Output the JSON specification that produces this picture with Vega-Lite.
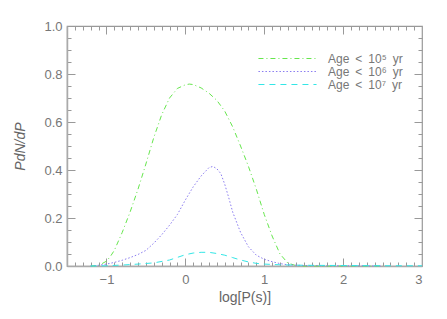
{
  "$schema": "https://vega.github.io/schema/vega-lite/v6.json",
  "autosize": "none",
  "width": 355,
  "height": 240,
  "padding": {"left": 67, "top": 26, "right": 25, "bottom": 53},
  "config": {
    "view": {"stroke": "#999", "strokeWidth": 1.2}
  },
  "data": {"values": [
    {"x": -1.2, "y": 0, "s": "Age < 10⁵ yr"},
    {"x": -1.1, "y": 0.002, "s": "Age < 10⁵ yr"},
    {"x": -1.0, "y": 0.02, "s": "Age < 10⁵ yr"},
    {"x": -0.95, "y": 0.04, "s": "Age < 10⁵ yr"},
    {"x": -0.9, "y": 0.065, "s": "Age < 10⁵ yr"},
    {"x": -0.8, "y": 0.14, "s": "Age < 10⁵ yr"},
    {"x": -0.7, "y": 0.225, "s": "Age < 10⁵ yr"},
    {"x": -0.6, "y": 0.32, "s": "Age < 10⁵ yr"},
    {"x": -0.5, "y": 0.425, "s": "Age < 10⁵ yr"},
    {"x": -0.4, "y": 0.535, "s": "Age < 10⁵ yr"},
    {"x": -0.3, "y": 0.63, "s": "Age < 10⁵ yr"},
    {"x": -0.2, "y": 0.70, "s": "Age < 10⁵ yr"},
    {"x": -0.1, "y": 0.74, "s": "Age < 10⁵ yr"},
    {"x": 0.0, "y": 0.755, "s": "Age < 10⁵ yr"},
    {"x": 0.05, "y": 0.758, "s": "Age < 10⁵ yr"},
    {"x": 0.1, "y": 0.756, "s": "Age < 10⁵ yr"},
    {"x": 0.2, "y": 0.742, "s": "Age < 10⁵ yr"},
    {"x": 0.3, "y": 0.72, "s": "Age < 10⁵ yr"},
    {"x": 0.4, "y": 0.69, "s": "Age < 10⁵ yr"},
    {"x": 0.5, "y": 0.645, "s": "Age < 10⁵ yr"},
    {"x": 0.6, "y": 0.58, "s": "Age < 10⁵ yr"},
    {"x": 0.7, "y": 0.5, "s": "Age < 10⁵ yr"},
    {"x": 0.8, "y": 0.415, "s": "Age < 10⁵ yr"},
    {"x": 0.9, "y": 0.32, "s": "Age < 10⁵ yr"},
    {"x": 1.0, "y": 0.215, "s": "Age < 10⁵ yr"},
    {"x": 1.1, "y": 0.125, "s": "Age < 10⁵ yr"},
    {"x": 1.2, "y": 0.05, "s": "Age < 10⁵ yr"},
    {"x": 1.3, "y": 0.012, "s": "Age < 10⁵ yr"},
    {"x": 1.4, "y": 0.002, "s": "Age < 10⁵ yr"},
    {"x": 1.5, "y": 0, "s": "Age < 10⁵ yr"},
    {"x": 2.0, "y": 0, "s": "Age < 10⁵ yr"},
    {"x": 2.5, "y": 0, "s": "Age < 10⁵ yr"},
    {"x": -1.2, "y": 0, "s": "Age < 10⁶ yr"},
    {"x": -1.1, "y": 0.003, "s": "Age < 10⁶ yr"},
    {"x": -1.0, "y": 0.008, "s": "Age < 10⁶ yr"},
    {"x": -0.9, "y": 0.015, "s": "Age < 10⁶ yr"},
    {"x": -0.8, "y": 0.024, "s": "Age < 10⁶ yr"},
    {"x": -0.7, "y": 0.035, "s": "Age < 10⁶ yr"},
    {"x": -0.6, "y": 0.048, "s": "Age < 10⁶ yr"},
    {"x": -0.5, "y": 0.065, "s": "Age < 10⁶ yr"},
    {"x": -0.4, "y": 0.095, "s": "Age < 10⁶ yr"},
    {"x": -0.3, "y": 0.13, "s": "Age < 10⁶ yr"},
    {"x": -0.2, "y": 0.17, "s": "Age < 10⁶ yr"},
    {"x": -0.1, "y": 0.215, "s": "Age < 10⁶ yr"},
    {"x": 0.0, "y": 0.275, "s": "Age < 10⁶ yr"},
    {"x": 0.1, "y": 0.33, "s": "Age < 10⁶ yr"},
    {"x": 0.2, "y": 0.375, "s": "Age < 10⁶ yr"},
    {"x": 0.3, "y": 0.41, "s": "Age < 10⁶ yr"},
    {"x": 0.35, "y": 0.415, "s": "Age < 10⁶ yr"},
    {"x": 0.4, "y": 0.405, "s": "Age < 10⁶ yr"},
    {"x": 0.45, "y": 0.385, "s": "Age < 10⁶ yr"},
    {"x": 0.5, "y": 0.34, "s": "Age < 10⁶ yr"},
    {"x": 0.55, "y": 0.285, "s": "Age < 10⁶ yr"},
    {"x": 0.6, "y": 0.225, "s": "Age < 10⁶ yr"},
    {"x": 0.7, "y": 0.14, "s": "Age < 10⁶ yr"},
    {"x": 0.8, "y": 0.08, "s": "Age < 10⁶ yr"},
    {"x": 0.9, "y": 0.045, "s": "Age < 10⁶ yr"},
    {"x": 1.0, "y": 0.028, "s": "Age < 10⁶ yr"},
    {"x": 1.1, "y": 0.018, "s": "Age < 10⁶ yr"},
    {"x": 1.2, "y": 0.01, "s": "Age < 10⁶ yr"},
    {"x": 1.3, "y": 0.005, "s": "Age < 10⁶ yr"},
    {"x": 1.5, "y": 0.002, "s": "Age < 10⁶ yr"},
    {"x": 2.0, "y": 0.001, "s": "Age < 10⁶ yr"},
    {"x": 2.5, "y": 0, "s": "Age < 10⁶ yr"},
    {"x": -1.2, "y": 0, "s": "Age < 10⁷ yr"},
    {"x": -1.0, "y": 0.001, "s": "Age < 10⁷ yr"},
    {"x": -0.8, "y": 0.004, "s": "Age < 10⁷ yr"},
    {"x": -0.6, "y": 0.008, "s": "Age < 10⁷ yr"},
    {"x": -0.4, "y": 0.013, "s": "Age < 10⁷ yr"},
    {"x": -0.2, "y": 0.025, "s": "Age < 10⁷ yr"},
    {"x": -0.1, "y": 0.036, "s": "Age < 10⁷ yr"},
    {"x": 0.0, "y": 0.047, "s": "Age < 10⁷ yr"},
    {"x": 0.1, "y": 0.054, "s": "Age < 10⁷ yr"},
    {"x": 0.2, "y": 0.057, "s": "Age < 10⁷ yr"},
    {"x": 0.3, "y": 0.057, "s": "Age < 10⁷ yr"},
    {"x": 0.4, "y": 0.052, "s": "Age < 10⁷ yr"},
    {"x": 0.5, "y": 0.045, "s": "Age < 10⁷ yr"},
    {"x": 0.6, "y": 0.035, "s": "Age < 10⁷ yr"},
    {"x": 0.7, "y": 0.025, "s": "Age < 10⁷ yr"},
    {"x": 0.8, "y": 0.017, "s": "Age < 10⁷ yr"},
    {"x": 0.9, "y": 0.011, "s": "Age < 10⁷ yr"},
    {"x": 1.0, "y": 0.008, "s": "Age < 10⁷ yr"},
    {"x": 1.2, "y": 0.005, "s": "Age < 10⁷ yr"},
    {"x": 1.5, "y": 0.003, "s": "Age < 10⁷ yr"},
    {"x": 2.0, "y": 0.002, "s": "Age < 10⁷ yr"},
    {"x": 2.5, "y": 0.001, "s": "Age < 10⁷ yr"},
    {"x": 3.0, "y": 0.001, "s": "Age < 10⁷ yr"}
  ]},
  "resolve": {"axis": {"x": "independent", "y": "independent"}},
  "layer": [
    {
      "mark": {"type": "line", "opacity": 0},
      "encoding": {
        "x": {"field": "x", "type": "quantitative", "axis": {"orient": "bottom", "grid": true, "gridColor": "#999",
          "gridDash": {"condition": {"test": "abs(datum.value - round(datum.value)) < 0.001", "value": [8, 224, 8]}, "value": [4, 232, 4]},
          "labels": false, "domain": false, "ticks": false, "title": null,
          "values": [-1.4,-1.3,-1.2,-1.1,-1,-0.9,-0.8,-0.7,-0.6,-0.5,-0.4,-0.3,-0.2,-0.1,0,0.1,0.2,0.3,0.4,0.5,0.6,0.7,0.8,0.9,1,1.1,1.2,1.3,1.4,1.5,1.6,1.7,1.8,1.9,2,2.1,2.2,2.3,2.4,2.5,2.6,2.7,2.8,2.9]}},
        "y": {"field": "y", "type": "quantitative", "axis": {"orient": "left", "grid": true, "gridColor": "#999",
          "gridDash": {"condition": {"test": "abs(datum.value * 5 - round(datum.value * 5)) < 0.001", "value": [8, 339, 8]}, "value": [4, 347, 4]},
          "labels": false, "domain": false, "ticks": false, "title": null,
          "values": [0.05,0.1,0.15,0.2,0.25,0.3,0.35,0.4,0.45,0.5,0.55,0.6,0.65,0.7,0.75,0.8,0.85,0.9,0.95]}}
      }
    },
    {
      "mark": {"type": "line", "strokeWidth": 1},
      "encoding": {
        "x": {"field": "x", "type": "quantitative", "scale": {"domain": [-1.5, 3], "nice": false, "zero": false},
              "axis": {"orient": "bottom", "values": [-1, 0, 1, 2, 3], "grid": false, "ticks": false, "domain": true, "domainColor": "#aaa", "domainWidth": 1.5,
                       "labelFont": "Liberation Sans", "labelFontSize": 13, "labelColor": "#777", "labelPadding": 7,
                       "title": "log[P(s)]", "titleFont": "Liberation Sans", "titleFontSize": 14, "titleFontWeight": "normal", "titleColor": "#666", "titlePadding": 4}},
        "y": {"field": "y", "type": "quantitative", "scale": {"domain": [0, 1], "nice": false},
              "axis": {"orient": "left", "values": [0, 0.2, 0.4, 0.6, 0.8, 1.0], "format": ".1f", "grid": false, "ticks": false, "domain": true, "domainColor": "#aaa", "domainWidth": 1.5,
                       "labelFont": "Liberation Sans", "labelFontSize": 13, "labelColor": "#777", "labelPadding": 5,
                       "title": "PdN/dP", "titleFont": "Liberation Sans", "titleFontSize": 14, "titleFontWeight": "normal", "titleFontStyle": "italic", "titleColor": "#666", "titlePadding": 16}},
        "color": {"field": "s", "type": "nominal", "scale": {"domain": ["Age < 10⁵ yr", "Age < 10⁶ yr", "Age < 10⁷ yr"], "range": ["#66e64d", "#8a7cf0", "#33e6e6"]},
                  "legend": {"orient": "none", "legendX": 214, "legendY": 26, "title": null, "symbolType": "M-5,0H5", "symbolSize": 135, "symbolStrokeWidth": 1, "labelFont": "Liberation Sans", "labelFontSize": 12, "labelColor": "#777", "labelOffset": 34, "rowPadding": 0, "padding": 0, "labelExpr": "replace(replace(replace(datum.label, ' <', '\u2002<'), '< ', '<\u2002'), ' yr', '\u2002yr')"}},
        "strokeDash": {"field": "s", "type": "nominal", "scale": {"domain": ["Age < 10⁵ yr", "Age < 10⁶ yr", "Age < 10⁷ yr"], "range": [[5, 3, 1, 3], [1.5, 2], [6, 5]]}, "legend": null}
      }
    }
  ]
}
